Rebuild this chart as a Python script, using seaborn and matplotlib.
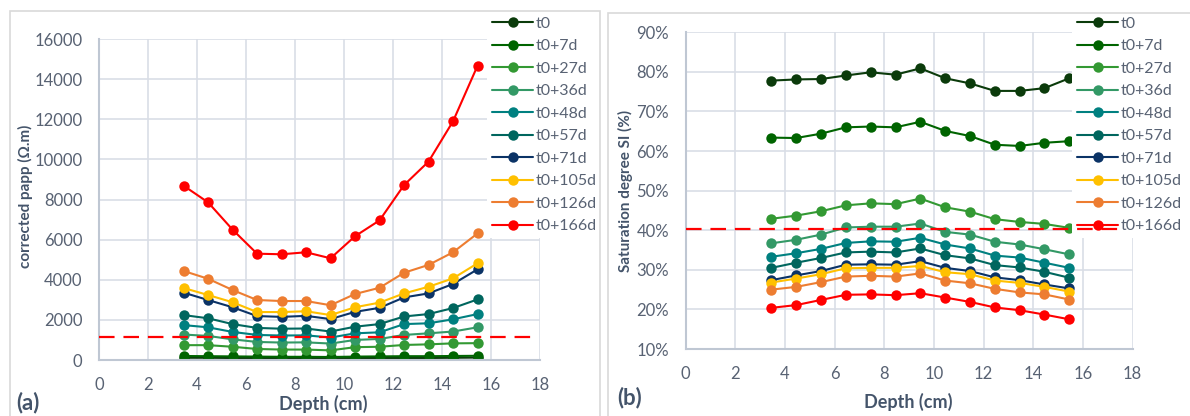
import matplotlib
matplotlib.use("Agg")
import matplotlib.pyplot as plt
import seaborn as sns
from matplotlib.patches import Rectangle
from matplotlib.ticker import FuncFormatter

depth = [3.45, 4.45, 5.45, 6.45, 7.45, 8.45, 9.45, 10.45, 11.45, 12.45, 13.45, 14.45, 15.45]
series_names = ["t0", "t0+7d", "t0+27d", "t0+36d", "t0+48d", "t0+57d",
                "t0+71d", "t0+105d", "t0+126d", "t0+166d"]
colors = ["#0B3B0B", "#006400", "#339933", "#339966", "#008080", "#00665E",
          "#0B3366", "#FFC000", "#ED7D31", "#FF0000"]

# (a) corrected apparent resistivity (Ohm.m)
rho_t0 = [110, 110, 100, 100, 100, 100, 90, 100, 100, 100, 100, 110, 120]
rho_7d = [200, 190, 180, 170, 160, 160, 150, 170, 180, 190, 190, 200, 210]
rho_27d = [740, 740, 660, 550, 520, 520, 480, 640, 660, 750, 780, 830, 840]
rho_36d = [1270, 1200, 1030, 900, 870, 880, 820, 1000, 1050, 1250, 1330, 1420, 1630]
rho_48d = [1740, 1630, 1400, 1250, 1220, 1230, 1120, 1330, 1380, 1790, 1830, 2030, 2290]
rho_57d = [2240, 2080, 1790, 1600, 1560, 1570, 1420, 1660, 1790, 2170, 2290, 2590, 3020]
rho_71d = [3360, 2990, 2630, 2190, 2150, 2200, 2040, 2400, 2600, 3120, 3320, 3790, 4520]
rho_105d = [3590, 3240, 2880, 2390, 2390, 2430, 2240, 2630, 2860, 3320, 3650, 4070, 4820]
rho_126d = [4440, 4050, 3490, 2990, 2940, 2940, 2730, 3290, 3600, 4350, 4740, 5370, 6310]
rho_166d = [8690, 7860, 6500, 5300, 5270, 5370, 5070, 6170, 6960, 8720, 9890, 11900, 14670]
rho_threshold = 1130

# (b) saturation degree SI (%)
si_t0 = [77.8, 78.1, 78.2, 79.1, 79.9, 79.3, 80.9, 78.4, 77.1, 75.2, 75.2, 75.9, 78.4]
si_7d = [63.4, 63.3, 64.4, 66.0, 66.2, 66.0, 67.4, 65.1, 63.8, 61.6, 61.3, 62.1, 62.5]
si_27d = [42.9, 43.7, 44.8, 46.3, 46.8, 46.6, 48.0, 45.8, 44.7, 42.8, 42.1, 41.6, 40.6]
si_36d = [36.7, 37.6, 38.9, 40.7, 40.9, 40.9, 41.7, 39.6, 38.9, 37.1, 36.4, 35.2, 33.9]
si_48d = [33.3, 34.2, 35.3, 36.8, 37.2, 37.1, 38.1, 36.4, 35.4, 33.6, 33.1, 31.8, 30.5]
si_57d = [30.5, 31.8, 33.0, 34.4, 34.6, 34.4, 35.4, 33.7, 32.9, 31.2, 30.6, 29.5, 28.0]
si_71d = [27.4, 28.6, 29.7, 31.3, 31.4, 31.3, 32.2, 30.5, 29.7, 28.1, 27.4, 26.3, 25.3]
si_105d = [26.8, 27.8, 28.9, 30.4, 30.5, 30.5, 31.0, 29.4, 28.9, 27.3, 26.7, 25.7, 24.5]
si_126d = [25.0, 25.7, 26.9, 28.3, 28.5, 28.3, 29.1, 27.3, 26.6, 25.2, 24.3, 23.8, 22.5]
si_166d = [20.4, 21.1, 22.4, 23.7, 23.8, 23.6, 24.1, 23.0, 21.9, 20.5, 19.8, 18.7, 17.5]
si_threshold = 40.3

rho = [rho_t0, rho_7d, rho_27d, rho_36d, rho_48d, rho_57d, rho_71d, rho_105d, rho_126d, rho_166d]
si = [si_t0, si_7d, si_27d, si_36d, si_48d, si_57d, si_71d, si_105d, si_126d, si_166d]

sns.set_theme(style="whitegrid")
plt.rcParams['font.family'] = ['Lato', 'DejaVu Sans']

tick_col = "#586273"
label_col = "#44546A"
grid_col = "#D9DEE6"

fig = plt.figure(figsize=(11.9, 4.16), dpi=100)
fig.patch.set_facecolor("white")

# chart frames
fig.patches.append(Rectangle((10 / 1190, -0.01), 590 / 1190, 1 - 11 / 416 + 0.01,
                             transform=fig.transFigure, fill=False,
                             edgecolor="#D9D9D9", lw=1.2))
fig.patches.append(Rectangle((608 / 1190, -0.01), 590 / 1190, 1 - 13 / 416 + 0.01,
                             transform=fig.transFigure, fill=False,
                             edgecolor="#D9D9D9", lw=1.2))

ax1 = fig.add_axes([0.0832, 0.1346, 0.3706, 0.7716])
ax2 = fig.add_axes([0.5762, 0.161, 0.3756, 0.7613])


def draw_panel(ax, values, threshold):
    for name, col, vals in zip(series_names, colors, values):
        sns.lineplot(x=depth, y=vals, ax=ax, color=col, label=name,
                     marker="o", markersize=7.5, markeredgewidth=0,
                     linewidth=1.5)
    ax.plot([0, 17.75], [threshold, threshold], color="#FF0000",
            linestyle=(0, (7, 4)), lw=1.6, zorder=6, clip_on=False)
    ax.set_xlim(0, 18)
    ax.set_xticks(range(0, 19, 2))
    ax.grid(True, color=grid_col, lw=1.2)
    for s in ["top", "right"]:
        ax.spines[s].set_visible(False)
    for s in ["left", "bottom"]:
        ax.spines[s].set_color("#BFC7D3")
        ax.spines[s].set_linewidth(1.5)
    ax.tick_params(axis="both", length=0, labelsize=12, labelcolor=tick_col)
    ax.tick_params(axis="y", pad=12)
    ax.tick_params(axis="x", pad=12)
    ax.set_xlabel("Depth (cm)", fontsize=13, fontweight="bold", color=label_col)
    ax.set_facecolor("white")


draw_panel(ax1, rho, rho_threshold)
ax1.set_ylim(0, 16000)
ax1.set_yticks(range(0, 16001, 2000))
ax1.set_ylabel("corrected papp (Ω.m)", fontsize=11, fontweight="bold", color=label_col)
ax1.yaxis.set_label_coords(-0.15, 0.51)
ax1.xaxis.set_label_coords(0.508, -0.108)

draw_panel(ax2, si, si_threshold)
ax2.set_ylim(10, 90)
ax2.set_yticks(range(10, 91, 10))
ax2.yaxis.set_major_formatter(FuncFormatter(lambda v, p: f"{v:.0f}%"))
ax2.set_ylabel("Saturation degree SI (%)", fontsize=11, fontweight="bold", color=label_col)
ax2.yaxis.set_label_coords(-0.118, 0.5)
ax2.xaxis.set_label_coords(0.499, -0.14)

for ax, x0 in [(ax1, 487 / 1190), (ax2, 1072 / 1190)]:
    leg = ax.legend(loc="upper left", bbox_to_anchor=(x0, 1 - 12 / 416),
                    bbox_transform=fig.transFigure, borderaxespad=0,
                    frameon=True, facecolor="white", edgecolor="none",
                    framealpha=1, fontsize=11.5, handlelength=2.6,
                    handletextpad=0.15, labelspacing=0.52, borderpad=0.3)
    for t in leg.get_texts():
        t.set_color(tick_col)

fig.text(16 / 1190, 1 - 403 / 416, "(a)", fontsize=16, fontweight="bold",
         color=label_col, va="center", ha="left")
fig.text(617 / 1190, 1 - 398 / 416, "(b)", fontsize=16, fontweight="bold",
         color=label_col, va="center", ha="left")

fig.savefig("out.png", dpi=100)
